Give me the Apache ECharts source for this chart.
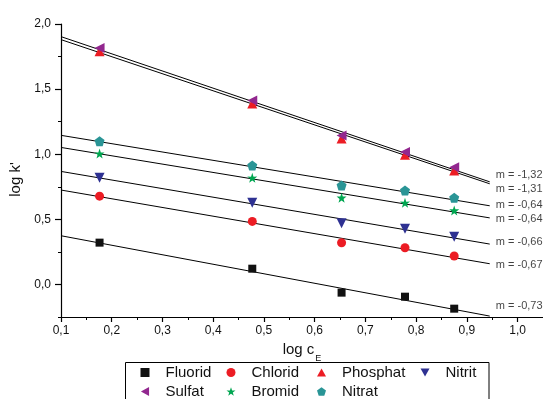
<!DOCTYPE html>
<html><head><meta charset="utf-8">
<script src="https://cdn.jsdelivr.net/npm/echarts@6/dist/echarts.min.js"></script>
<style>html,body{margin:0;padding:0;background:#fff}#c{width:543px;height:399px}</style>
</head><body><div id="c"></div>
<script>
// ---- data ----
const xValues = [0.176, 0.477, 0.653, 0.778, 0.875];
const fluorid  = [0.321, 0.121, -0.063, -0.094, -0.186];
const chlorid  = [0.678, 0.484, 0.320, 0.282, 0.218];
const phosphat = [1.790, 1.389, 1.120, 0.995, 0.875];
const nitrit   = [0.819, 0.627, 0.469, 0.428, 0.367];
const sulfat   = [1.816, 1.412, 1.143, 1.018, 0.900];
const bromid   = [1.005, 0.819, 0.666, 0.627, 0.568];
const nitrat   = [1.100, 0.913, 0.760, 0.722, 0.666];

// fitted lines: value at the two ends (x = 0.1 and x = 0.945)
const fitX = [0.1, 0.945];
const fitSulfat   = [1.903, 0.788];
const fitPhosphat = [1.880, 0.773];
const fitNitrat   = [1.145, 0.604];
const fitBromid   = [1.052, 0.511];
const fitNitrit   = [0.868, 0.310];
const fitChlorid  = [0.725, 0.159];
const fitFluorid  = [0.374, -0.243];

const slopeLabels = ['m = -1,32', 'm = -1,31', 'm = -0,64', 'm = -0,64', 'm = -0,66', 'm = -0,67', 'm = -0,73'];
const slopeLabelY = [0.839, 0.737, 0.614, 0.504, 0.325, 0.149, -0.166];
const slopeLabelX = 0.957;

const xMajorTicks = [0.1, 0.2, 0.3, 0.4, 0.5, 0.6, 0.7, 0.8, 0.9, 1.0];
const xMinorTicks = [0.15, 0.25, 0.35, 0.45, 0.55, 0.65, 0.75, 0.85, 0.95];
const yMajorTicks = [0, 0.5, 1.0, 1.5, 2.0];
const yMinorTicks = [-0.25, 0.25, 0.75, 1.25, 1.75];

// ---- styling ----
const TXT = '#111111';
const FONT = 'Liberation Sans, Arial, sans-serif';
const fmt = v => v.toFixed(1).replace('.', ',');
const SYM = {
  rect: 'rect',
  circle: 'circle',
  up: 'path://M5,0 L10,9 L0,9 Z',
  down: 'path://M0,0 L10,0 L5,9 Z',
  left: 'path://M0,5 L9,0 L9,10 Z',
  star: 'path://M5,0 L6.18,3.5 L9.76,3.45 L6.9,5.7 L7.94,9.05 L5,7 L2.06,9.05 L3.1,5.7 L0.24,3.45 L3.82,3.5 Z',
  pent: 'path://M5,0 L10,3.6 L8.1,9.5 L1.9,9.5 L0,3.6 Z'
};
const scatterDefs = [
  {name: 'Fluorid',  data: fluorid,  color: '#111111', symbol: SYM.rect,   size: 8},
  {name: 'Chlorid',  data: chlorid,  color: '#ec1c24', symbol: SYM.circle, size: 9},
  {name: 'Phosphat', data: phosphat, color: '#ec1c24', symbol: SYM.up,     size: 10},
  {name: 'Nitrit',   data: nitrit,   color: '#2e3192', symbol: SYM.down,   size: 10},
  {name: 'Sulfat',   data: sulfat,   color: '#92278f', symbol: SYM.left,   size: 10},
  {name: 'Bromid',   data: bromid,   color: '#00a651', symbol: SYM.star,   size: 10},
  {name: 'Nitrat',   data: nitrat,   color: '#2a9596', symbol: SYM.pent,   size: 10}
];
const fits = [fitSulfat, fitPhosphat, fitNitrat, fitBromid, fitNitrit, fitChlorid, fitFluorid];

const series = [];
fits.forEach((f, i) => {
  series.push({
    type: 'line', name: 'fit' + i, silent: true, symbol: 'none', z: 1,
    data: fitX.map((x, k) => [x, f[k]]),
    lineStyle: {color: '#000', width: 1}
  });
});
scatterDefs.forEach(d => {
  series.push({
    type: 'scatter', name: d.name, symbol: d.symbol, symbolSize: d.size, z: 3,
    itemStyle: {color: d.color, opacity: 1},
    data: xValues.map((x, k) => [x, d.data[k]])
  });
});
series.push({
  type: 'scatter', name: 'slopes', symbolSize: 0, silent: true,
  data: slopeLabelY.map(y => [slopeLabelX, y]),
  label: {show: true, position: 'right', distance: 0, color: TXT, fontSize: 11, fontFamily: FONT,
    formatter: p => slopeLabels[p.dataIndex]}
});

const axisLine = {onZero: false, lineStyle: {color: '#000', width: 1.2}};
const legendBase = {
  orient: 'vertical', top: 365, itemWidth: 9, itemHeight: 9, itemGap: 4,
  padding: 0, selectedMode: false,
  textStyle: {color: TXT, fontSize: 15, fontFamily: FONT, lineHeight: 15, padding: [0, 0, 0, 11]}
};

const option = {
  animation: false,
  backgroundColor: '#fff',
  textStyle: {fontFamily: FONT},
  grid: {left: 61, top: 24, width: 483, height: 293, containLabel: false},
  xAxis: [
    {type: 'value', position: 'bottom', min: 0.1, max: 1.05,
     axisLine: axisLine,
     axisTick: {show: true, customValues: xMajorTicks, length: 5, lineStyle: {color: '#000', width: 1.2}},
     axisLabel: {customValues: xMajorTicks, formatter: fmt, margin: 8, fontSize: 12, color: TXT, fontFamily: FONT},
     splitLine: {show: false},
     name: '{a|log c}{b|E}', nameLocation: 'middle', nameGap: 23,
     nameTextStyle: {rich: {a: {fontSize: 15, color: TXT, fontFamily: FONT}, b: {fontSize: 9, color: TXT, fontFamily: FONT, verticalAlign: 'bottom', padding: [0, 0, -6, 1]}}}
    },
    {type: 'value', position: 'bottom', min: 0.1, max: 1.05,
     axisLine: {show: false, onZero: false},
     axisTick: {show: true, customValues: xMinorTicks, length: 3, lineStyle: {color: '#000', width: 1}},
     axisLabel: {show: false}, splitLine: {show: false}}
  ],
  yAxis: [
    {type: 'value', position: 'left', min: -0.25, max: 2.0,
     axisLine: axisLine,
     axisTick: {show: true, customValues: yMajorTicks, length: 6, lineStyle: {color: '#000', width: 1.2}},
     axisLabel: {customValues: yMajorTicks, formatter: fmt, margin: 10, fontSize: 12, color: TXT, fontFamily: FONT},
     splitLine: {show: false},
     name: "log k'", nameLocation: 'middle', nameGap: 34,
     nameTextStyle: {fontSize: 15, color: TXT, fontFamily: FONT, padding: [0, 18, 0, 0]}
    },
    {type: 'value', position: 'left', min: -0.25, max: 2.0,
     axisLine: {show: false, onZero: false},
     axisTick: {show: true, customValues: yMinorTicks, length: 3, lineStyle: {color: '#000', width: 1}},
     axisLabel: {show: false}, splitLine: {show: false}}
  ],
  legend: [
    Object.assign({}, legendBase, {left: 140.5, data: ['Fluorid', 'Sulfat']}),
    Object.assign({}, legendBase, {left: 226.5, data: ['Chlorid', 'Bromid']}),
    Object.assign({}, legendBase, {left: 317, data: ['Phosphat', 'Nitrat']}),
    Object.assign({}, legendBase, {left: 420.5, data: ['Nitrit']})
  ],
  graphic: [{
    type: 'rect', shape: {x: 125.5, y: 362.5, width: 363.5, height: 60},
    style: {fill: 'none', stroke: '#000', lineWidth: 1}, silent: true, z: 0
  }],
  series: series
};
const chart = echarts.init(document.getElementById('c'), null, {renderer: 'canvas'});
chart.setOption(option);
</script>
</body></html>
